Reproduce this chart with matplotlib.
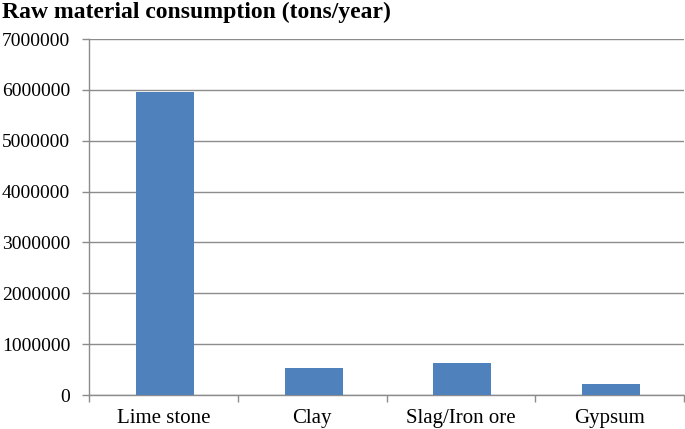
import numpy as np
import matplotlib.pyplot as plt
from matplotlib import ticker

categories = ['Lime stone', 'Clay', 'Slag/Iron ore', 'Gypsum']
consumption = [5960000, 525000, 620000, 210000]
yticks = list(range(0, 7000001, 1000000))

plt.rcParams['font.family'] = ['Liberation Serif', 'DejaVu Serif']

fig = plt.figure(figsize=(6.85, 4.29), dpi=100)
ax = fig.add_axes([89 / 685, 1 - 395 / 429, 595 / 685, 356 / 429])

grid_color = '#8c8c8c'
x = np.arange(len(categories))
ax.bar(x + 0.01, consumption, width=0.39, color='#4F81BD', zorder=3)

ax.set_xlim(-0.5, len(categories) - 0.5)
ax.set_ylim(0, 7000000)
ax.set_yticks(yticks)
ax.yaxis.set_major_formatter(ticker.FuncFormatter(lambda v, p: '%d' % v))
ax.yaxis.grid(True, color=grid_color, linewidth=1.0, zorder=0)

ax.set_xticks(x)
ax.set_xticklabels(categories)
ax.set_xticks(np.arange(len(categories) + 1) - 0.5, minor=True)
ax.tick_params(axis='x', which='major', length=0, pad=10, labelsize=15)
ax.tick_params(axis='x', which='minor', length=5, color=grid_color, width=1)
ax.tick_params(axis='y', length=5, color=grid_color, width=1, pad=8.5, labelsize=14)

for side in ['top', 'right']:
    ax.spines[side].set_visible(False)
for side in ['left', 'bottom']:
    ax.spines[side].set_color(grid_color)
    ax.spines[side].set_linewidth(1.0)

fig.text(0.003, 0.972, 'Raw material consumption (tons/year)', fontsize=17,
         fontweight='bold', ha='left', va='center')

fig.savefig('out.png', dpi=100)
